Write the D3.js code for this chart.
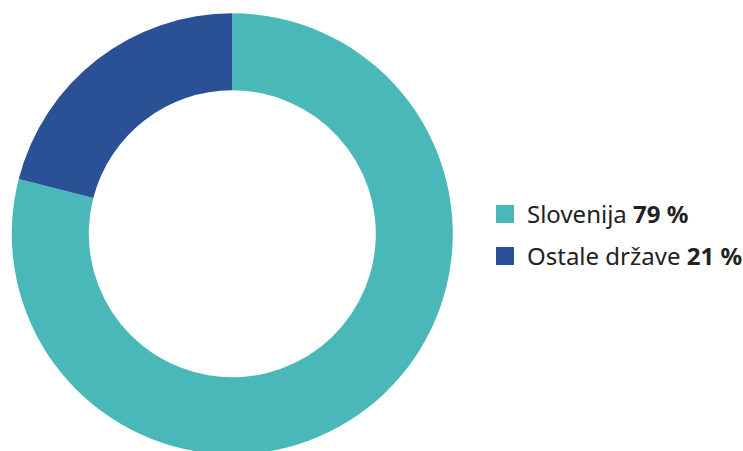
<!DOCTYPE html>
<html>
<head>
<meta charset="utf-8">
<script src="https://cdn.jsdelivr.net/npm/d3@7"></script>
<style>
    body { margin: 0; background: white; }
    svg { display: block; }
</style>
</head>
<body>
<div id="chart"></div>
<script>
const categories = ["Slovenija", "Ostale države"];
const values = [79, 21];
const colors = ["#4ab8b8", "#2a5096"];

function drawDonut() {
    const div_id = "#chart";

    //Width and height
    let width = 743;
    let height = 451;

    const cx = 232.3, cy = 233.8;
    const outerR = 220.5, innerR = 143.5;

    const data = categories.map(function (c, i) {
        return {name: c, value: values[i], color: colors[i]};
    });

    const svg = d3.select(div_id)
        .append("svg")
        .attr("width", width)
        .attr("height", height);

    const pie = d3.pie()
        .sort(null)
        .value(d => d.value);

    const arc = d3.arc()
        .innerRadius(innerR)
        .outerRadius(outerR);

    svg.append("g")
        .attr("transform", "translate(" + cx + "," + cy + ")")
        .selectAll("path")
        .data(pie(data))
        .join("path")
        .attr("d", arc)
        .attr("fill", d => d.data.color);

    // legend
    const legend = svg.append("g")
        .attr("transform", "translate(496,205)");

    const rows = legend.selectAll("g")
        .data(data)
        .join("g")
        .attr("transform", (d, i) => "translate(0," + (i * 42) + ")");

    rows.append("rect")
        .attr("width", 18)
        .attr("height", 18)
        .attr("fill", d => d.color);

    const txt = rows.append("text")
        .attr("x", 31)
        .attr("y", 18)
        .style("font-family", "'Noto Sans', sans-serif")
        .style("font-size", "24px")
        .style("fill", "#222");

    txt.append("tspan").text(d => d.name + " ");
    txt.append("tspan")
        .style("font-weight", "bold")
        .text(d => d.value + " %");
}

drawDonut();
</script>
</body>
</html>
